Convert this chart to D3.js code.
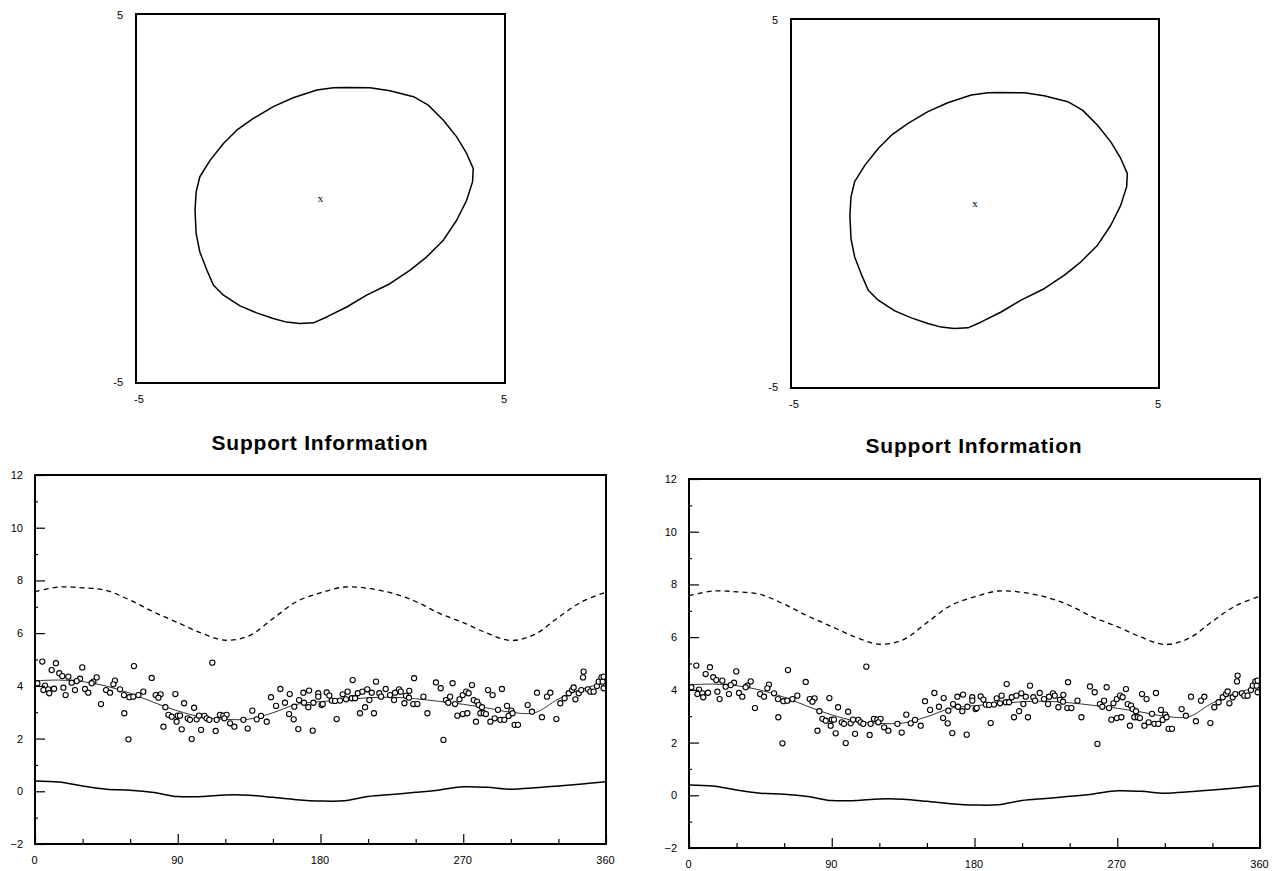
<!DOCTYPE html>
<html>
<head>
<meta charset="utf-8">
<script src="https://cdn.jsdelivr.net/npm/d3@7"></script>
<style>
  body { margin: 0; background: #fff; }
  text { font-family: "Liberation Sans", Arial, sans-serif; fill: #000; }
</style>
</head>
<body>
<svg id="chart" width="1283" height="871"></svg>
<script>
// ---- data ----
// closed contour of the top panels (x, y in -5..5)
var contourX = [0.66,1.34,1.88,2.52,2.92,3.33,3.69,3.96,4.14,4.12,3.96,3.69,3.33,2.88,2.43,1.88,1.25,0.71,0.17,-0.19,-0.56,-0.92,-1.28,-1.73,-2.18,-2.63,-2.90,-3.08,-3.27,-3.37,-3.40,-3.37,-3.27,-2.99,-2.63,-2.27,-1.82,-1.28,-0.74,-0.10,0.35];
var contourY = [3.01,3.00,2.92,2.76,2.53,2.12,1.67,1.22,0.81,0.45,-0.05,-0.59,-1.13,-1.58,-1.94,-2.31,-2.62,-2.94,-3.21,-3.37,-3.39,-3.35,-3.25,-3.10,-2.91,-2.62,-2.35,-1.94,-1.45,-0.95,-0.32,0.18,0.59,1.04,1.49,1.85,2.17,2.49,2.73,2.94,3.00];
var squareTicks = [-5, 5];

// bottom panels: curves sampled at these angles
var curveAngles = [0,15,30,45,60,75,90,105,120,135,150,165,180,195,210,225,240,255,270,285,300,315,330,345,360];
var upperDashed = [7.57,7.75,7.72,7.62,7.25,6.80,6.40,6.00,5.73,5.90,6.55,7.20,7.53,7.75,7.70,7.52,7.20,6.75,6.40,6.00,5.72,5.95,6.60,7.20,7.55];
var fittedLine  = [4.19,4.22,4.16,3.99,3.72,3.37,3.05,2.82,2.73,2.74,2.98,3.30,3.40,3.47,3.55,3.57,3.51,3.41,3.30,3.16,3.00,2.98,3.50,3.88,4.12];
var lowerSolid  = [0.39,0.35,0.20,0.08,0.04,-0.05,-0.20,-0.20,-0.14,-0.15,-0.23,-0.32,-0.37,-0.36,-0.20,-0.12,-0.04,0.05,0.17,0.15,0.08,0.13,0.20,0.28,0.36];

// scatter observations
var obsAngle = [4.6,13.2,29.8,62.4,10.5,15.3,17.2,21.0,28.4,26.3,23.1,38.9,36.8,35.7,50.4,49.4,73.6,1.5,6.3,5.3,8.4,9.0,12.0,17.9,19.3,25.2,31.5,33.6,44.8,47.3,53.6,56.1,59.5,62.0,65.2,68.3,41.6,56.3,76.1,79.2,77.8,88.5,82.2,84.1,86.2,90.0,89.3,81.0,58.9,
  111.8,94.0,100.3,91.4,96.3,97.7,101.9,103.4,106.8,108.2,109.9,114.5,116.6,118.7,120.8,119.4,123.0,125.7,92.5,104.7,113.9,98.8,131.4,134.1,137.0,139.8,142.5,146.1,148.8,152.0,154.7,157.6,160.6,160.2,163.1,163.5,166.5,166.0,169.2,169.6,172.3,172.8,175.1,175.5,178.6,180.7,178.6,
  181.4,183.9,185.6,187.1,190.2,189.2,192.3,194.0,196.1,197.1,200.3,199.7,201.8,203.5,204.9,206.4,208.1,209.5,210.8,212.3,213.7,215.0,217.1,218.2,221.1,223.8,226.4,227.0,229.5,230.6,232.9,233.9,236.0,235.8,239.0,238.5,241.1,244.9,247.4,252.8,255.8,257.5,259.1,261.7,260.6,263.3,264.8,267.6,266.3,269.7,269.7,272.6,271.8,
  273.4,275.5,276.6,278.7,279.7,280.8,281.8,282.9,284.3,278.0,285.6,288.5,294.4,287.1,289.8,291.9,293.4,295.9,297.6,298.6,300.3,301.1,302.4,304.5,310.6,313.3,316.5,319.6,322.8,324.9,328.7,331.2,333.9,336.5,338.6,339.6,340.7,342.8,344.4,345.9,345.5,348.6,350.1,352.2,354.3,355.4,357.1,358.5,357.9,358.5];
var obsValue = [4.92,4.86,4.70,4.75,4.60,4.48,4.37,4.35,4.27,4.18,4.12,4.32,4.16,4.10,4.20,4.06,4.30,4.10,4.01,3.84,3.87,3.72,3.89,3.93,3.65,3.84,3.88,3.74,3.84,3.74,3.87,3.65,3.57,3.59,3.65,3.78,3.31,2.96,3.65,3.68,3.55,3.69,3.19,2.90,2.83,2.87,2.64,2.45,1.97,
  4.88,3.34,3.17,2.87,2.77,2.71,2.73,2.87,2.86,2.77,2.71,2.71,2.90,2.87,2.90,2.77,2.58,2.45,2.35,2.33,2.29,1.98,2.71,2.38,3.06,2.73,2.86,2.64,3.57,3.24,3.88,3.36,3.69,2.93,2.73,3.21,3.46,2.36,3.74,3.36,3.19,3.82,2.30,3.36,3.72,3.27,3.59,
  3.31,3.75,3.63,3.44,2.74,3.43,3.44,3.68,3.49,3.78,4.22,3.53,3.53,3.72,2.96,3.78,3.19,3.87,3.46,3.74,2.96,4.16,3.72,3.59,3.88,3.65,3.46,3.74,3.87,3.78,3.34,3.62,3.81,3.55,4.29,3.31,3.31,3.59,2.96,4.13,3.91,1.95,3.46,3.59,3.36,4.10,3.31,3.49,2.87,3.65,2.93,2.96,3.78,
  3.72,4.03,3.46,3.40,3.27,2.96,3.19,2.96,2.93,2.64,3.84,3.65,3.88,2.64,2.77,3.09,2.71,2.71,3.24,2.86,3.06,2.96,2.52,2.52,3.27,3.02,3.74,2.81,3.59,3.74,2.74,3.34,3.53,3.72,3.84,3.94,3.49,3.72,3.84,4.54,4.32,3.87,3.78,3.78,3.99,4.16,4.32,3.91,4.16,4.35];

var angleTicks = [0, 90, 180, 270, 360];
var angleMinor = [30, 60, 120, 150, 210, 240, 300, 330];
var valueTicks = [-2, 0, 2, 4, 6, 8, 10, 12];
var valueMinor = [-1, 1, 3, 5, 7, 9, 11];
var chartTitle = "Support Information";

var svg = d3.select("#chart");

// top square panel with the closed contour
function drawContour(x0, y0, x1, y1) {
    var x = d3.scaleLinear().domain([-5, 5]).range([x0, x1]);
    var y = d3.scaleLinear().domain([-5, 5]).range([y1, y0]);
    var g = svg.append("g");

    var pts = contourX.map(function (d, i) { return [x(d), y(contourY[i])]; });
    g.append("path")
        .attr("d", d3.line().curve(d3.curveLinearClosed)(pts))
        .attr("fill", "none")
        .attr("stroke", "#000")
        .attr("stroke-width", 1.5)
        .attr("stroke-linejoin", "round");

    g.append("text")
        .attr("x", x(0)).attr("y", y(0) + 3)
        .attr("text-anchor", "middle")
        .style("font-family", "'Liberation Serif', serif")
        .style("font-size", "11px")
        .text("x");

    g.append("rect")
        .attr("x", x0).attr("y", y0)
        .attr("width", x1 - x0).attr("height", y1 - y0)
        .attr("fill", "none").attr("stroke", "#000").attr("stroke-width", 2);

    // corner labels
    g.append("text").attr("x", x0 - 13).attr("y", y(squareTicks[1]) + 5)
        .attr("text-anchor", "end").style("font-size", "11px").text(squareTicks[1]);
    g.append("text").attr("x", x0 - 13).attr("y", y(squareTicks[0]) + 3)
        .attr("text-anchor", "end").style("font-size", "11px").text(squareTicks[0]);
    g.append("text").attr("x", x(squareTicks[0]) + 3).attr("y", y1 + 20)
        .attr("text-anchor", "middle").style("font-size", "11px").text(squareTicks[0]);
    g.append("text").attr("x", x(squareTicks[1]) - 1).attr("y", y1 + 20)
        .attr("text-anchor", "middle").style("font-size", "11px").text(squareTicks[1]);
}

// bottom panel with bands, fit and observations
function drawSupport(x0, y0, x1, y1, titleX, titleY) {
    var x = d3.scaleLinear().domain([0, 360]).range([x0, x1]);
    var y = d3.scaleLinear().domain([-2, 12]).range([y1, y0]);
    var g = svg.append("g");

    g.append("text")
        .attr("x", titleX).attr("y", titleY)
        .attr("text-anchor", "middle")
        .style("font-size", "21px")
        .style("font-weight", "bold")
        .style("letter-spacing", "0.8px")
        .text(chartTitle);

    var line = d3.line()
        .x(function (d) { return x(d[0]); })
        .y(function (d) { return y(d[1]); })
        .curve(d3.curveCatmullRom);

    function series(vals) {
        return curveAngles.map(function (a, i) { return [a, vals[i]]; });
    }

    g.append("path").attr("d", line(series(upperDashed)))
        .attr("fill", "none").attr("stroke", "#000")
        .attr("stroke-width", 1.3).attr("stroke-dasharray", "5,4");
    g.append("path").attr("d", line(series(lowerSolid)))
        .attr("fill", "none").attr("stroke", "#000").attr("stroke-width", 1.5);
    g.append("path").attr("d", line(series(fittedLine)))
        .attr("fill", "none").attr("stroke", "#333").attr("stroke-width", 1);

    g.selectAll("circle.obs")
        .data(obsAngle.map(function (a, i) { return [a, obsValue[i]]; }))
        .enter().append("circle")
        .attr("class", "obs")
        .attr("cx", function (d) { return x(d[0]); })
        .attr("cy", function (d) { return y(d[1]); })
        .attr("r", 2.6)
        .attr("fill", "#fff").attr("stroke", "#000").attr("stroke-width", 1.1);

    // axes: ticks point into the frame
    g.append("g").attr("transform", "translate(" + x0 + ",0)")
        .call(d3.axisLeft(y).tickValues(valueTicks).tickSize(-10).tickPadding(12));
    g.append("g").attr("transform", "translate(" + x0 + ",0)")
        .call(d3.axisLeft(y).tickValues(valueMinor).tickSize(-3).tickFormat(""));
    var xAxis = g.append("g").attr("transform", "translate(0," + y1 + ")")
        .call(d3.axisBottom(x).tickValues(angleTicks).tickSize(-10).tickPadding(12));
    g.append("g").attr("transform", "translate(0," + y1 + ")")
        .call(d3.axisBottom(x).tickValues(angleMinor).tickSize(-5).tickFormat(""));

    g.selectAll(".domain").remove();
    g.selectAll(".tick line").attr("stroke", "#000").attr("stroke-width", 1.2);
    g.selectAll(".tick text")
        .style("font-family", "'Liberation Sans', Arial, sans-serif")
        .style("font-size", "11px").attr("fill", "#000");
    xAxis.selectAll(".tick text").attr("dx", "-1");

    g.append("rect")
        .attr("x", x0).attr("y", y0)
        .attr("width", x1 - x0).attr("height", y1 - y0)
        .attr("fill", "none").attr("stroke", "#000").attr("stroke-width", 2);
}

drawContour(136, 14, 505, 383);
drawContour(791, 19, 1159, 388);
drawSupport(35, 475, 606, 844, 320, 450);
drawSupport(689, 479, 1260, 848, 974, 453);
</script>
</body>
</html>
